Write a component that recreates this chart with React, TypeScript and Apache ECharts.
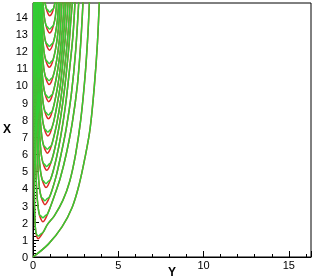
import React, { useEffect, useRef } from "react";
import * as echarts from "echarts";

// Each curve: points [Y, X] from the top of the left branch, through the minimum, to the top of the right branch.
const curve0 = [[0, 0], [0.9, 0.75], [1.7, 1.75], [2.3, 2.9], [2.7, 4.2], [3.05, 5.8], [3.35, 7.5], [3.6, 10], [3.78, 12.5], [3.9, 15.2]];
const curve1 = [[0.04, 15.2], [0.05, 9], [0.07, 5], [0.09, 3], [0.12, 2.0], [0.16, 1.5], [0.22, 1.2], [0.3, 1.06], [0.42, 1.18], [0.6, 1.45], [0.85, 1.9], [1.25, 2.4], [1.75, 3.3], [2.15, 4.4], [2.5, 6], [2.8, 8], [3.05, 10.5], [3.22, 13], [3.32, 15.2]];
const curve2 = [[0.09, 15.2], [0.12, 9], [0.16, 5.5], [0.22, 3.8], [0.3, 2.9], [0.38, 2.45], [0.48, 2.18], [0.58, 2.05], [0.7, 2.18], [0.85, 2.5], [1.05, 3.0], [1.3, 3.7], [1.6, 4.6], [1.95, 6], [2.3, 7.8], [2.6, 10], [2.8, 12.5], [2.95, 15.2]];
const curve3 = [[0.13, 15.2], [0.17, 10], [0.23, 7], [0.3, 5], [0.38, 4.0], [0.48, 3.5], [0.6, 3.18], [0.7, 3.05], [0.82, 3.18], [0.97, 3.5], [1.15, 4.0], [1.38, 4.8], [1.65, 6], [1.95, 7.5], [2.25, 9.5], [2.5, 12], [2.7, 15.2]];
const curve4 = [[0.18, 15.2], [0.22, 11], [0.28, 8], [0.35, 6], [0.44, 5.0], [0.54, 4.5], [0.66, 4.18], [0.76, 4.05], [0.88, 4.18], [1.02, 4.5], [1.18, 5.0], [1.38, 5.8], [1.62, 7], [1.9, 8.8], [2.15, 11], [2.35, 13], [2.48, 15.2]];
const curve5 = [[0.21, 15.2], [0.25, 12], [0.32, 9], [0.4, 7], [0.48, 6.0], [0.58, 5.5], [0.7, 5.18], [0.8, 5.05], [0.92, 5.18], [1.05, 5.5], [1.2, 6.0], [1.38, 6.8], [1.6, 8], [1.85, 9.8], [2.08, 12], [2.22, 13.8], [2.34, 15.2]];
const curve6 = [[0.25, 15.2], [0.28, 13], [0.35, 10], [0.43, 8], [0.52, 7], [0.62, 6.5], [0.74, 6.18], [0.84, 6.05], [0.96, 6.18], [1.08, 6.5], [1.22, 7], [1.4, 7.8], [1.6, 9], [1.85, 11], [2.05, 13], [2.2, 15.2]];
const curve7 = [[0.28, 15.2], [0.3, 14], [0.38, 11], [0.47, 9], [0.56, 8], [0.66, 7.5], [0.77, 7.18], [0.87, 7.05], [0.99, 7.18], [1.1, 7.5], [1.24, 8], [1.4, 8.8], [1.6, 10], [1.82, 12], [2.0, 14], [2.08, 15.2]];
const curve8 = [[0.32, 15.2], [0.34, 14.5], [0.41, 12], [0.5, 10], [0.59, 9], [0.69, 8.5], [0.8, 8.18], [0.9, 8.05], [1.02, 8.18], [1.13, 8.5], [1.26, 9], [1.42, 9.8], [1.6, 11], [1.8, 13], [1.96, 15.2]];
const curve9 = [[0.37, 15.2], [0.43, 13], [0.52, 11], [0.61, 10], [0.71, 9.5], [0.82, 9.18], [0.92, 9.05], [1.04, 9.18], [1.15, 9.5], [1.28, 10], [1.43, 10.8], [1.6, 12], [1.76, 13.8], [1.85, 15.2]];
const curve10 = [[0.42, 15.2], [0.46, 14], [0.54, 12], [0.63, 11], [0.73, 10.5], [0.84, 10.18], [0.94, 10.05], [1.06, 10.18], [1.17, 10.5], [1.3, 11], [1.44, 11.8], [1.58, 13], [1.72, 15.2]];
const curve11 = [[0.46, 15.2], [0.48, 14.5], [0.55, 13], [0.64, 12], [0.74, 11.5], [0.85, 11.18], [0.95, 11.05], [1.07, 11.18], [1.18, 11.5], [1.3, 12], [1.43, 12.8], [1.55, 14], [1.6, 15.2]];
const curve12 = [[0.5, 15.2], [0.56, 14], [0.65, 13], [0.75, 12.5], [0.86, 12.18], [0.96, 12.05], [1.08, 12.18], [1.19, 12.5], [1.31, 13], [1.43, 13.8], [1.52, 15.2]];
const curve13 = [[0.55, 15.2], [0.57, 15], [0.66, 14], [0.76, 13.5], [0.87, 13.18], [0.97, 13.05], [1.09, 13.18], [1.2, 13.5], [1.31, 14], [1.42, 15.2]];
const curve14 = [[0.66, 15.2], [0.68, 15], [0.77, 14.5], [0.88, 14.18], [0.98, 14.05], [1.1, 14.18], [1.21, 14.5], [1.32, 15], [1.34, 15.2]];

const redCurves = [curve0, curve1, curve2, curve3, curve4, curve5, curve6, curve7, curve8, curve9, curve10, curve11, curve12, curve13, curve14];

// Green curves: same branches, but with a shallower, slightly higher bottom (three points around the minimum).
const greenBottoms: (number[][] | null)[] = [
  null,
  [[0.19, 1.36], [0.31, 1.22], [0.45, 1.34]],
  [[0.46, 2.4], [0.58, 2.28], [0.71, 2.4]],
  [[0.58, 3.4], [0.7, 3.28], [0.83, 3.4]],
  [[0.64, 4.4], [0.76, 4.28], [0.89, 4.4]],
  [[0.68, 5.4], [0.8, 5.28], [0.93, 5.4]],
  [[0.72, 6.4], [0.84, 6.28], [0.97, 6.4]],
  [[0.75, 7.4], [0.87, 7.28], [1.0, 7.4]],
  [[0.78, 8.4], [0.9, 8.28], [1.03, 8.4]],
  [[0.8, 9.4], [0.92, 9.28], [1.05, 9.4]],
  [[0.82, 10.4], [0.94, 10.28], [1.07, 10.4]],
  [[0.83, 11.4], [0.95, 11.28], [1.08, 11.4]],
  [[0.84, 12.4], [0.96, 12.28], [1.09, 12.4]],
  [[0.85, 13.4], [0.97, 13.28], [1.1, 13.4]],
  [[0.86, 14.4], [0.98, 14.28], [1.11, 14.4]],
];

const xTickValues = [0, 5, 10, 15];
const yTickValues = [0, 1, 2, 3, 4, 5, 6, 7, 8, 9, 10, 11, 12, 13, 14];
const xAxisTitle = "Y";
const yAxisTitle = "X";

const RED = "#dc2a24";
const GREEN = "#33cc33";

function greenVersion(pts: number[][], bottom: number[][] | null): number[][] {
  if (!bottom) return pts;
  let mi = 0;
  pts.forEach((p, i) => {
    if (p[1] < pts[mi][1]) mi = i;
  });
  return [...pts.slice(0, mi - 1), ...bottom, ...pts.slice(mi + 2)];
}

export default function App() {
  const ref = useRef<HTMLDivElement>(null);
  useEffect(() => {
    if (!ref.current) return;
    const chart = echarts.init(ref.current, null, { renderer: "svg" });
    const series: any[] = [];
    redCurves.forEach((c) => {
      series.push({
        type: "line",
        data: c,
        smooth: 0.35,
        showSymbol: false,
        silent: true,
        lineStyle: { color: RED, width: 1.5 },
        z: 2,
      });
    });
    redCurves.forEach((c, i) => {
      series.push({
        type: "line",
        data: greenVersion(c, greenBottoms[i]),
        smooth: 0.35,
        showSymbol: false,
        silent: true,
        lineStyle: { color: GREEN, width: 1.5 },
        z: 3,
      });
    });
    const font = "Liberation Sans, Arial, sans-serif";
    const labelStyle = { color: "#000", fontFamily: font, fontSize: 11 };
    chart.setOption({
      animation: false,
      grid: {
        left: 33, right: 4, top: 3, bottom: 22,
        outerBoundsMode: "none",
        containLabel: false,
        show: true, borderColor: "#000", borderWidth: 1, backgroundColor: "transparent",
      },
      graphic: [
        {
          type: "text",
          x: 172,
          y: 272,
          style: { text: xAxisTitle, fill: "#000", font: `bold 12px ${font}`, textAlign: "center", textVerticalAlign: "middle" },
        },
        {
          type: "text",
          x: 7,
          y: 129,
          style: { text: yAxisTitle, fill: "#000", font: `bold 12px ${font}`, textAlign: "center", textVerticalAlign: "middle" },
        },
      ],
      xAxis: {
        type: "value",
        min: 0,
        max: 16.3,
        interval: 5,
        axisLine: { show: true, lineStyle: { color: "#000", width: 1 } },
        axisTick: { show: true, inside: true, length: 6, lineStyle: { color: "#000" } },
        minorTick: { show: true, splitNumber: 5, length: 3, lineStyle: { color: "#000" } },
        splitLine: { show: false },
        axisLabel: { ...labelStyle, margin: 2, showMaxLabel: false, formatter: (v: number) => (xTickValues.includes(v) ? String(v) : "") },
      },
      yAxis: {
        type: "value",
        min: 0,
        max: 14.8,
        interval: 1,
        axisLine: { show: true, lineStyle: { color: "#000", width: 1 } },
        axisTick: { show: true, inside: true, length: 6, lineStyle: { color: "#000" } },
        minorTick: { show: true, splitNumber: 5, length: 3, lineStyle: { color: "#000" } },
        splitLine: { show: false },
        axisLabel: { ...labelStyle, margin: 5, showMaxLabel: false, formatter: (v: number) => (yTickValues.includes(v) ? String(v) : "") },
      },
      series,
    });
    return () => chart.dispose();
  }, []);
  return <div ref={ref} style={{ position: "fixed", left: 0, top: 0, width: 315, height: 279 }} />;
}
